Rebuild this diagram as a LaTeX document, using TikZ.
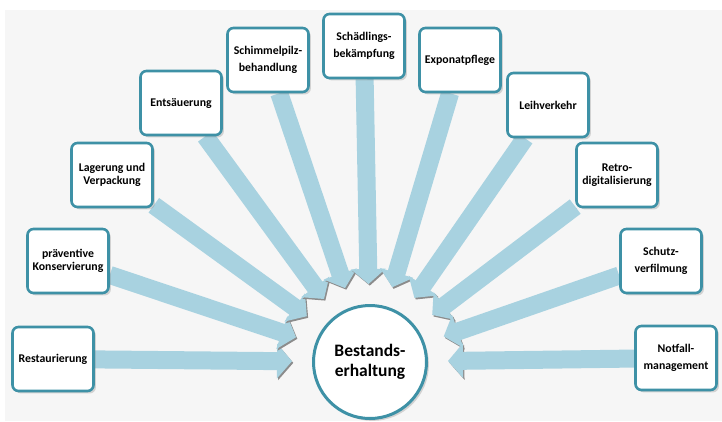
\documentclass[tikz,border=0pt]{standalone}
\usepackage{fontspec}
\setmainfont{Carlito}
\usetikzlibrary{arrows.meta,calc,shadows}
\pgfdeclarelayer{background}
\pgfsetlayers{background,main}
\definecolor{rahmen}{RGB}{62,145,166}
\definecolor{pfeilblau}{RGB}{168,210,224}

\begin{document}
\begin{tikzpicture}[x=1pt,y=-1pt,
  kasten/.style={draw=rahmen, line width=2.6pt, fill=white, rounded corners=6pt,
    minimum width=81pt, minimum height=64pt, align=center, inner sep=2pt,
    font=\bfseries\fontsize{11.8}{13.5}\selectfont, drop shadow={opacity=0.3}},
  kreis/.style={circle, draw=rahmen, line width=3pt, fill=white, minimum size=113pt,
    align=center, font=\bfseries\fontsize{17.5}{20}\selectfont, drop shadow={opacity=0.3}},
  pfeil/.style={line width=18pt, draw=pfeilblau, -{Triangle[width=34pt,length=15pt]},
    preaction={draw=black!45, transform canvas={shift={(1.3pt,-1.6pt)}}}}]
\useasboundingbox (0,0) rectangle (722,421);

\node[kreis] (C) at (370,362) {Bestands-\\erhaltung};

\node[kasten] (B1) at (53,359) {Restaurierung};
\node[kasten] (B2) at (68,261) {pr\"aventive\\Konservierung};
\node[kasten] (B3) at (112,175) {Lagerung und\\Verpackung};
\node[kasten] (B4) at (181,103) {Ents\"auerung};
\node[kasten] (B5) at (268,60) {Schimmelpilz-\\[4pt]behandlung};
\node[kasten] (B6) at (364,46) {Sch\"adlings-\\[4pt]bek\"ampfung};
\node[kasten] (B7) at (460,60) {Exponatpflege};
\node[kasten] (B8) at (548,105) {Leihverkehr};
\node[kasten] (B9) at (617,175) {Retro-\\digitalisierung};
\node[kasten] (B10) at (661,261) {Schutz-\\[4pt]verfilmung};
\node[kasten] (B11) at (676,358) {Notfall-\\[4pt]management};

\begin{pgfonlayer}{background}
\fill[gray!7] (5,10) rectangle (722,421);
\draw[pfeil] (B1) -- ($(C)!78pt!(B1)$);
\draw[pfeil] (B2) -- ($(C)!78pt!(B2)$);
\draw[pfeil] (B3) -- ($(C)!78pt!(B3)$);
\draw[pfeil] (B4) -- ($(C)!78pt!(B4)$);
\draw[pfeil] (B5) -- ($(C)!78pt!(B5)$);
\draw[pfeil] (B6) -- ($(C)!78pt!(B6)$);
\draw[pfeil] (B7) -- ($(C)!78pt!(B7)$);
\draw[pfeil] (B8) -- ($(C)!78pt!(B8)$);
\draw[pfeil] (B9) -- ($(C)!78pt!(B9)$);
\draw[pfeil] (B10) -- ($(C)!78pt!(B10)$);
\draw[pfeil] (B11) -- ($(C)!78pt!(B11)$);
\end{pgfonlayer}

\end{tikzpicture}
\end{document}
